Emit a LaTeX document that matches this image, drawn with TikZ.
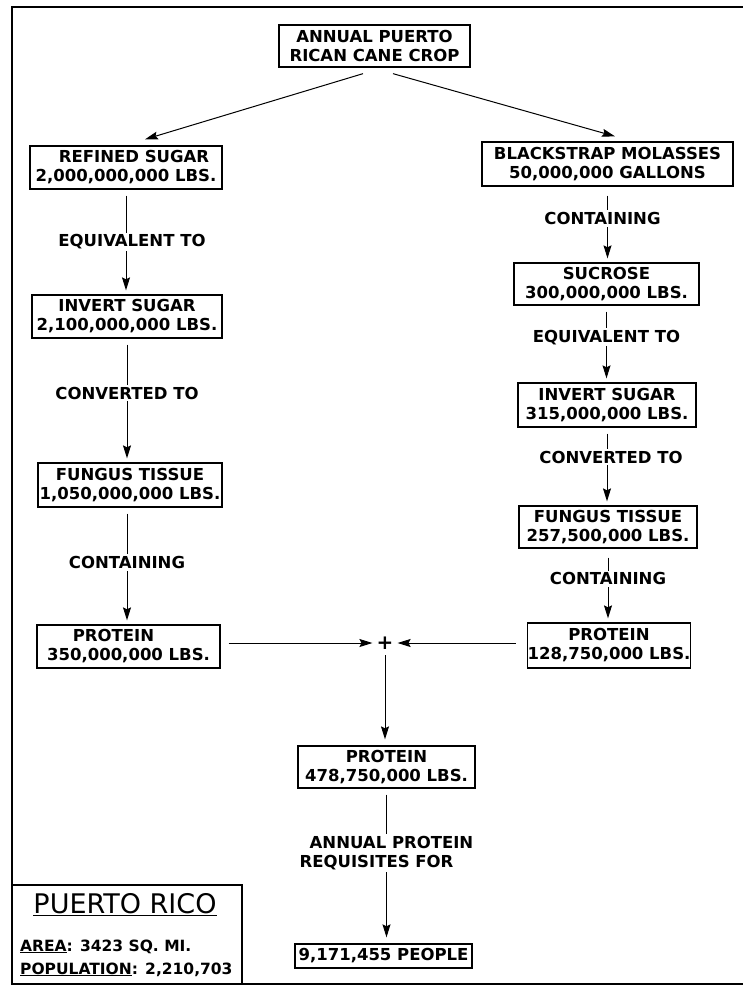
\documentclass[tikz,border=0pt]{standalone}
\usepackage{fontspec}
\setmainfont{DejaVu Sans}
\usetikzlibrary{arrows.meta}
\newcommand{\boxfont}{\bfseries\fontsize{16.5}{19}\selectfont}
\begin{document}
\begin{tikzpicture}[x=1pt,y=-1pt,
  box/.style={draw, line width=1.3pt, inner sep=0pt, align=center, font=\boxfont},
  lab/.style={fill=white, inner sep=2pt, font=\boxfont},
  arr/.style={line width=1pt, -{Stealth[length=13pt,width=8pt,inset=2pt]}, shorten <=6pt, shorten >=4pt}]
\useasboundingbox (0,0) rectangle (743,986);
% frame
\draw[line width=1.2pt] (743,7) -- (12,7) -- (12,984) -- (743,984);
% boxes
\node[box, minimum width=191pt, minimum height=42pt] (top) at (374.5,46) {ANNUAL PUERTO\\RICAN CANE CROP};
\node[box, minimum width=192pt, minimum height=43pt] (rs) at (126,167.5) {\hspace*{16pt}REFINED SUGAR\\2,000,000,000 LBS.};
\node[box, minimum width=251pt, minimum height=44pt] (bm) at (607.5,164) {BLACKSTRAP MOLASSES\\50,000,000 GALLONS};
\node[box, minimum width=190pt, minimum height=43pt] (is1) at (127,316.5) {INVERT SUGAR\\2,100,000,000 LBS.};
\node[box, minimum width=184pt, minimum height=44pt] (ft1) at (130,485) {FUNGUS TISSUE\\1,050,000,000 LBS.};
\node[box, minimum width=183pt, minimum height=43pt] (pr1) at (128.5,646.5) {PROTEIN\hspace*{30pt}\\350,000,000 LBS.};
\node[box, minimum width=185pt, minimum height=42pt] (suc) at (606.5,284) {SUCROSE\\300,000,000 LBS.};
\node[box, minimum width=178pt, minimum height=44pt] (is2) at (607,405) {INVERT SUGAR\\315,000,000 LBS.};
\node[box, minimum width=178pt, minimum height=42pt] (ft2) at (608,527) {FUNGUS TISSUE\\257,500,000 LBS.};
\node[box, minimum width=162pt, minimum height=45pt] (pr2) at (609,645.5) {PROTEIN\\128,750,000 LBS.};
\node[font=\bfseries\fontsize{20}{20}\selectfont, inner sep=0pt] (plus) at (385,643) {+};
\node[box, minimum width=177pt, minimum height=42pt] (pr3) at (386.5,767) {PROTEIN\\478,750,000 LBS.};
\node[box, minimum width=177pt, minimum height=24pt] (ppl) at (383.5,956) {9,171,455 PEOPLE};
% top arrows
\draw[arr, shorten <=0pt, shorten >=0pt] ([xshift=-11.5pt,yshift=-6pt]top.south) -- ([xshift=19pt,yshift=6pt]rs.north);
\draw[arr, shorten <=0pt, shorten >=0pt] ([xshift=18.5pt,yshift=-6pt]top.south) -- ([xshift=7.5pt,yshift=5pt]bm.north);
% left column
\draw[arr] (rs.south) -- (rs.south |- is1.north) node[lab, pos=0.5, xshift=6pt] {EQUIVALENT TO};
\draw[arr] (is1.south) -- (is1.south |- ft1.north) node[lab, pos=0.44] {CONVERTED TO};
\draw[arr] (ft1.south -| is1.south) -- (is1.south |- pr1.north) node[lab, pos=0.47] {CONTAINING};
% right column
\draw[arr, shorten <=9pt] (bm.south) -- (bm.south |- suc.north) node[lab, pos=0.42, xshift=-5pt] {CONTAINING};
\draw[arr] (suc.south) -- (suc.south |- is2.north) node[lab, pos=0.41] {EQUIVALENT TO};
\draw[arr] (is2.south) -- (is2.south |- ft2.north) node[lab, pos=0.38, xshift=4pt] {CONVERTED TO};
\draw[arr, shorten <=9pt] (ft2.south) -- (ft2.south |- pr2.north) node[lab, pos=0.41] {CONTAINING};
% merge
\draw[arr, shorten <=8pt, shorten >=4pt] (pr1.east |- plus) -- (plus.west);
\draw[arr, shorten <=11pt, shorten >=4pt] (pr2.west |- plus) -- (plus.east);
\draw[arr, shorten <=6pt, shorten >=6pt] (plus.south) -- (plus.south |- pr3.north);
\draw[arr, shorten >=6pt] (pr3.south) -- (pr3.south |- ppl.north) node[lab, pos=0.415, align=left] {\hspace*{10pt}ANNUAL PROTEIN\\REQUISITES FOR};
% Puerto Rico box
\node[draw, line width=1.3pt, minimum width=230pt, minimum height=99pt, inner sep=0pt] (prbox) at (127,934.5) {};
\node[font=\fontsize{27}{27}\selectfont, anchor=base, inner sep=0pt] (prtitle) at (125,913) {\underline{PUERTO RICO}};
\node[font=\bfseries\fontsize{15.5}{18}\selectfont, anchor=base west, inner sep=0pt] (area) at (20,951) {\underline{AREA}: 3423 SQ. MI.};
\node[font=\bfseries\fontsize{15.5}{18}\selectfont, anchor=base west, inner sep=0pt] (pop) at (20,974) {\underline{POPULATION}: 2,210,703};
\end{tikzpicture}
\end{document}
